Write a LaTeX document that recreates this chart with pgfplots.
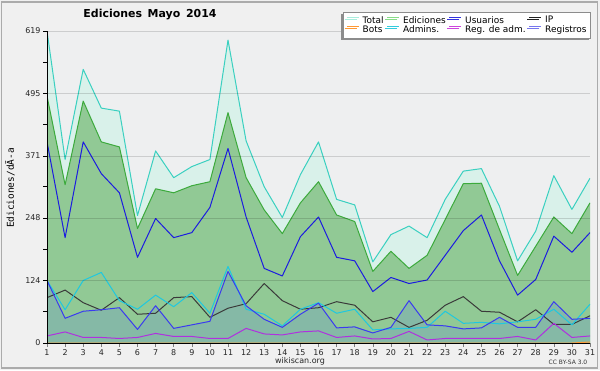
\documentclass[border=0pt]{standalone}
\usepackage{fontspec}
\setmainfont{DejaVu Sans}
\newfontfamily\monofont{DejaVu Sans Mono}
\usepackage{pgfplots}
\pgfplotsset{compat=1.18}
\usepackage{pgfplotstable}
\usetikzlibrary{shadows}

\definecolor{outerbg}{HTML}{F0F0F0}
\definecolor{plotbg}{HTML}{EEEFF0}
\definecolor{framec}{HTML}{ABABAB}
\definecolor{totline}{HTML}{3AD0C0}
\definecolor{totfill}{HTML}{D9F1EA}
\definecolor{edline}{HTML}{3CAA3C}
\definecolor{edfill}{HTML}{91C995}
\definecolor{usuline}{HTML}{1C1CE0}
\definecolor{regline}{HTML}{3A3AF0}
\definecolor{regfill}{HTML}{85B9A6}
\definecolor{admline}{HTML}{1EC8E0}
\definecolor{ipline}{HTML}{3A3A3A}
\definecolor{radmline}{HTML}{B030E0}
\definecolor{botline}{HTML}{FF9933}
% legend colours
\definecolor{lgtot}{HTML}{AAEEDD}
\definecolor{lged}{HTML}{88DD88}
\definecolor{lgusu}{HTML}{3333DD}
\definecolor{lgip}{HTML}{222222}
\definecolor{lgbot}{HTML}{FF9933}
\definecolor{lgadm}{HTML}{33CCDD}
\definecolor{lgradm}{HTML}{CC44DD}
\definecolor{lgreg}{HTML}{7777EE}

\pgfplotstableread{
d tot ed usu ip bot adm radm reg
1 619 490 399 90 0 124 14 124
2 364 314 209 105 0 66 22 49
3 543 480 399 80 0 124 11 63
4 466 399 336 65 0 140 11 66
5 460 389 298 90 0 84 9 70
6 253 227 170 57 0 67 11 27
7 381 306 247 59 0 95 19 74
8 328 298 209 90 0 72 13 29
9 350 312 219 92 0 100 13 36
10 364 320 269 51 0 59 9 43
11 601 457 386 69 0 152 9 142
12 401 328 250 78 0 67 29 74
13 310 264 148 118 0 57 18 47
14 249 217 133 84 0 34 16 31
15 334 278 211 67 0 67 22 57
16 399 320 250 70 0 80 24 79
17 285 254 170 82 0 59 11 30
18 274 241 163 75 0 67 14 32
19 161 142 102 42 0 26 8 20
20 215 182 130 51 0 28 9 31
21 232 148 118 31 0 29 23 84
22 209 174 125 45 0 31 6 36
23 285 245 174 75 0 63 9 34
24 341 316 223 92 0 39 9 28
25 346 317 254 63 0 41 9 30
26 271 225 163 61 0 38 9 51
27 163 134 95 42 0 42 13 31
28 222 192 126 66 0 47 6 31
29 332 250 212 37 0 67 39 82
30 265 217 180 37 0 36 11 47
31 327 278 219 54 2 77 14 49
}\data

\begin{document}
\begin{tikzpicture}[x=1bp,y=1bp]
\fill[outerbg] (0,0) rectangle (600,370);
\draw[framec, line width=1.5bp] (1.5,2) rectangle (597.5,368);
\begin{axis}[
  at={(47bp,27bp)}, anchor=south west,
  scale only axis, width=543bp, height=312bp,
  xmin=1, xmax=31, ymin=0, ymax=619,
  axis on top,
  axis background/.style={fill=plotbg},
  axis lines*=left,
  axis line style={-, black, line width=1bp},
  xtick={1,...,31},
  ytick={0,124,248,371,495,619},
  minor ytick={62,186,310,433,557},
  tick align=outside,
  major tick length=4bp, minor tick length=4bp,
  x tick style={line width=0.6bp},
  y tick style={line width=1bp, black},
  ymajorgrids,
  grid style={black, opacity=0.14, line width=1bp},
  tick label style={font=\fontsize{8}{8}\selectfont, text=black!85},
  /pgf/number format/assume math mode=true,
  yticklabel style={xshift=1bp},
  xticklabel style={yshift=1bp},
  legend columns=4,
  legend cell align=left,
  legend style={at={(0.545,1.062)}, anchor=north west,
    draw=black!45, line width=0.8bp, fill=white,
    drop shadow={shadow xshift=-2bp, shadow yshift=-2bp, fill=black!45, opacity=1},
    font=\fontsize{9}{9}\selectfont,
    inner xsep=3bp, inner ysep=3bp,
    row sep=-1.5bp, column sep=2bp,
    nodes={inner sep=1.2bp}},
  legend image code/.code={\path[line width=1.1bp, #1] (0bp,3bp) -- (12bp,3bp);},
]
\addlegendimage{draw=lgtot}\addlegendentry{Total}
\addlegendimage{draw=lged}\addlegendentry{Ediciones}
\addlegendimage{draw=lgusu}\addlegendentry{Usuarios}
\addlegendimage{draw=lgip}\addlegendentry{IP}
\addlegendimage{draw=lgbot}\addlegendentry{Bots}
\addlegendimage{draw=lgadm}\addlegendentry{Admins.}
\addlegendimage{draw=lgradm}\addlegendentry{Reg. de adm.}
\addlegendimage{draw=lgreg}\addlegendentry{Registros}

\addplot[draw=none, fill=totfill, forget plot] table[x=d,y=tot]{\data} \closedcycle;
\addplot[draw=none, fill=edfill, forget plot] table[x=d,y=ed]{\data} \closedcycle;
\addplot[draw=none, fill=regfill, forget plot] table[x=d,y=reg]{\data} \closedcycle;
\addplot[totline, line width=1bp, line join=round, forget plot] table[x=d,y=tot]{\data};
\addplot[edline, line width=1bp, line join=round, forget plot] table[x=d,y=ed]{\data};
\addplot[usuline, line width=1bp, line join=round, forget plot] table[x=d,y=usu]{\data};
\addplot[ipline, line width=1bp, line join=round, forget plot] table[x=d,y=ip]{\data};
\addplot[admline, line width=1bp, line join=round, forget plot] table[x=d,y=adm]{\data};
\addplot[regline, line width=1bp, line join=round, forget plot] table[x=d,y=reg]{\data};
\addplot[radmline, line width=1bp, line join=round, forget plot] table[x=d,y=radm]{\data};
\addplot[botline, line width=1bp, line join=round, forget plot] table[x=d,y=bot]{\data};
\end{axis}
\node[font=\bfseries\fontsize{11}{11}\selectfont] at (150,355) {Ediciones\, Mayo\, 2014};
\node[rotate=90, font=\monofont\fontsize{9.5}{9.5}\selectfont] at (10,182) {Ediciones/dÃ-a};
\node[font=\fontsize{8}{8}\selectfont, text=black!85] at (300,9) {wikiscan.org};
\node[font=\fontsize{6}{6}\selectfont, text=black!80] at (568,8) {CC BY-SA 3.0};
\pgfresetboundingbox
\path (0,0) rectangle (600,370);
\end{tikzpicture}
\end{document}
